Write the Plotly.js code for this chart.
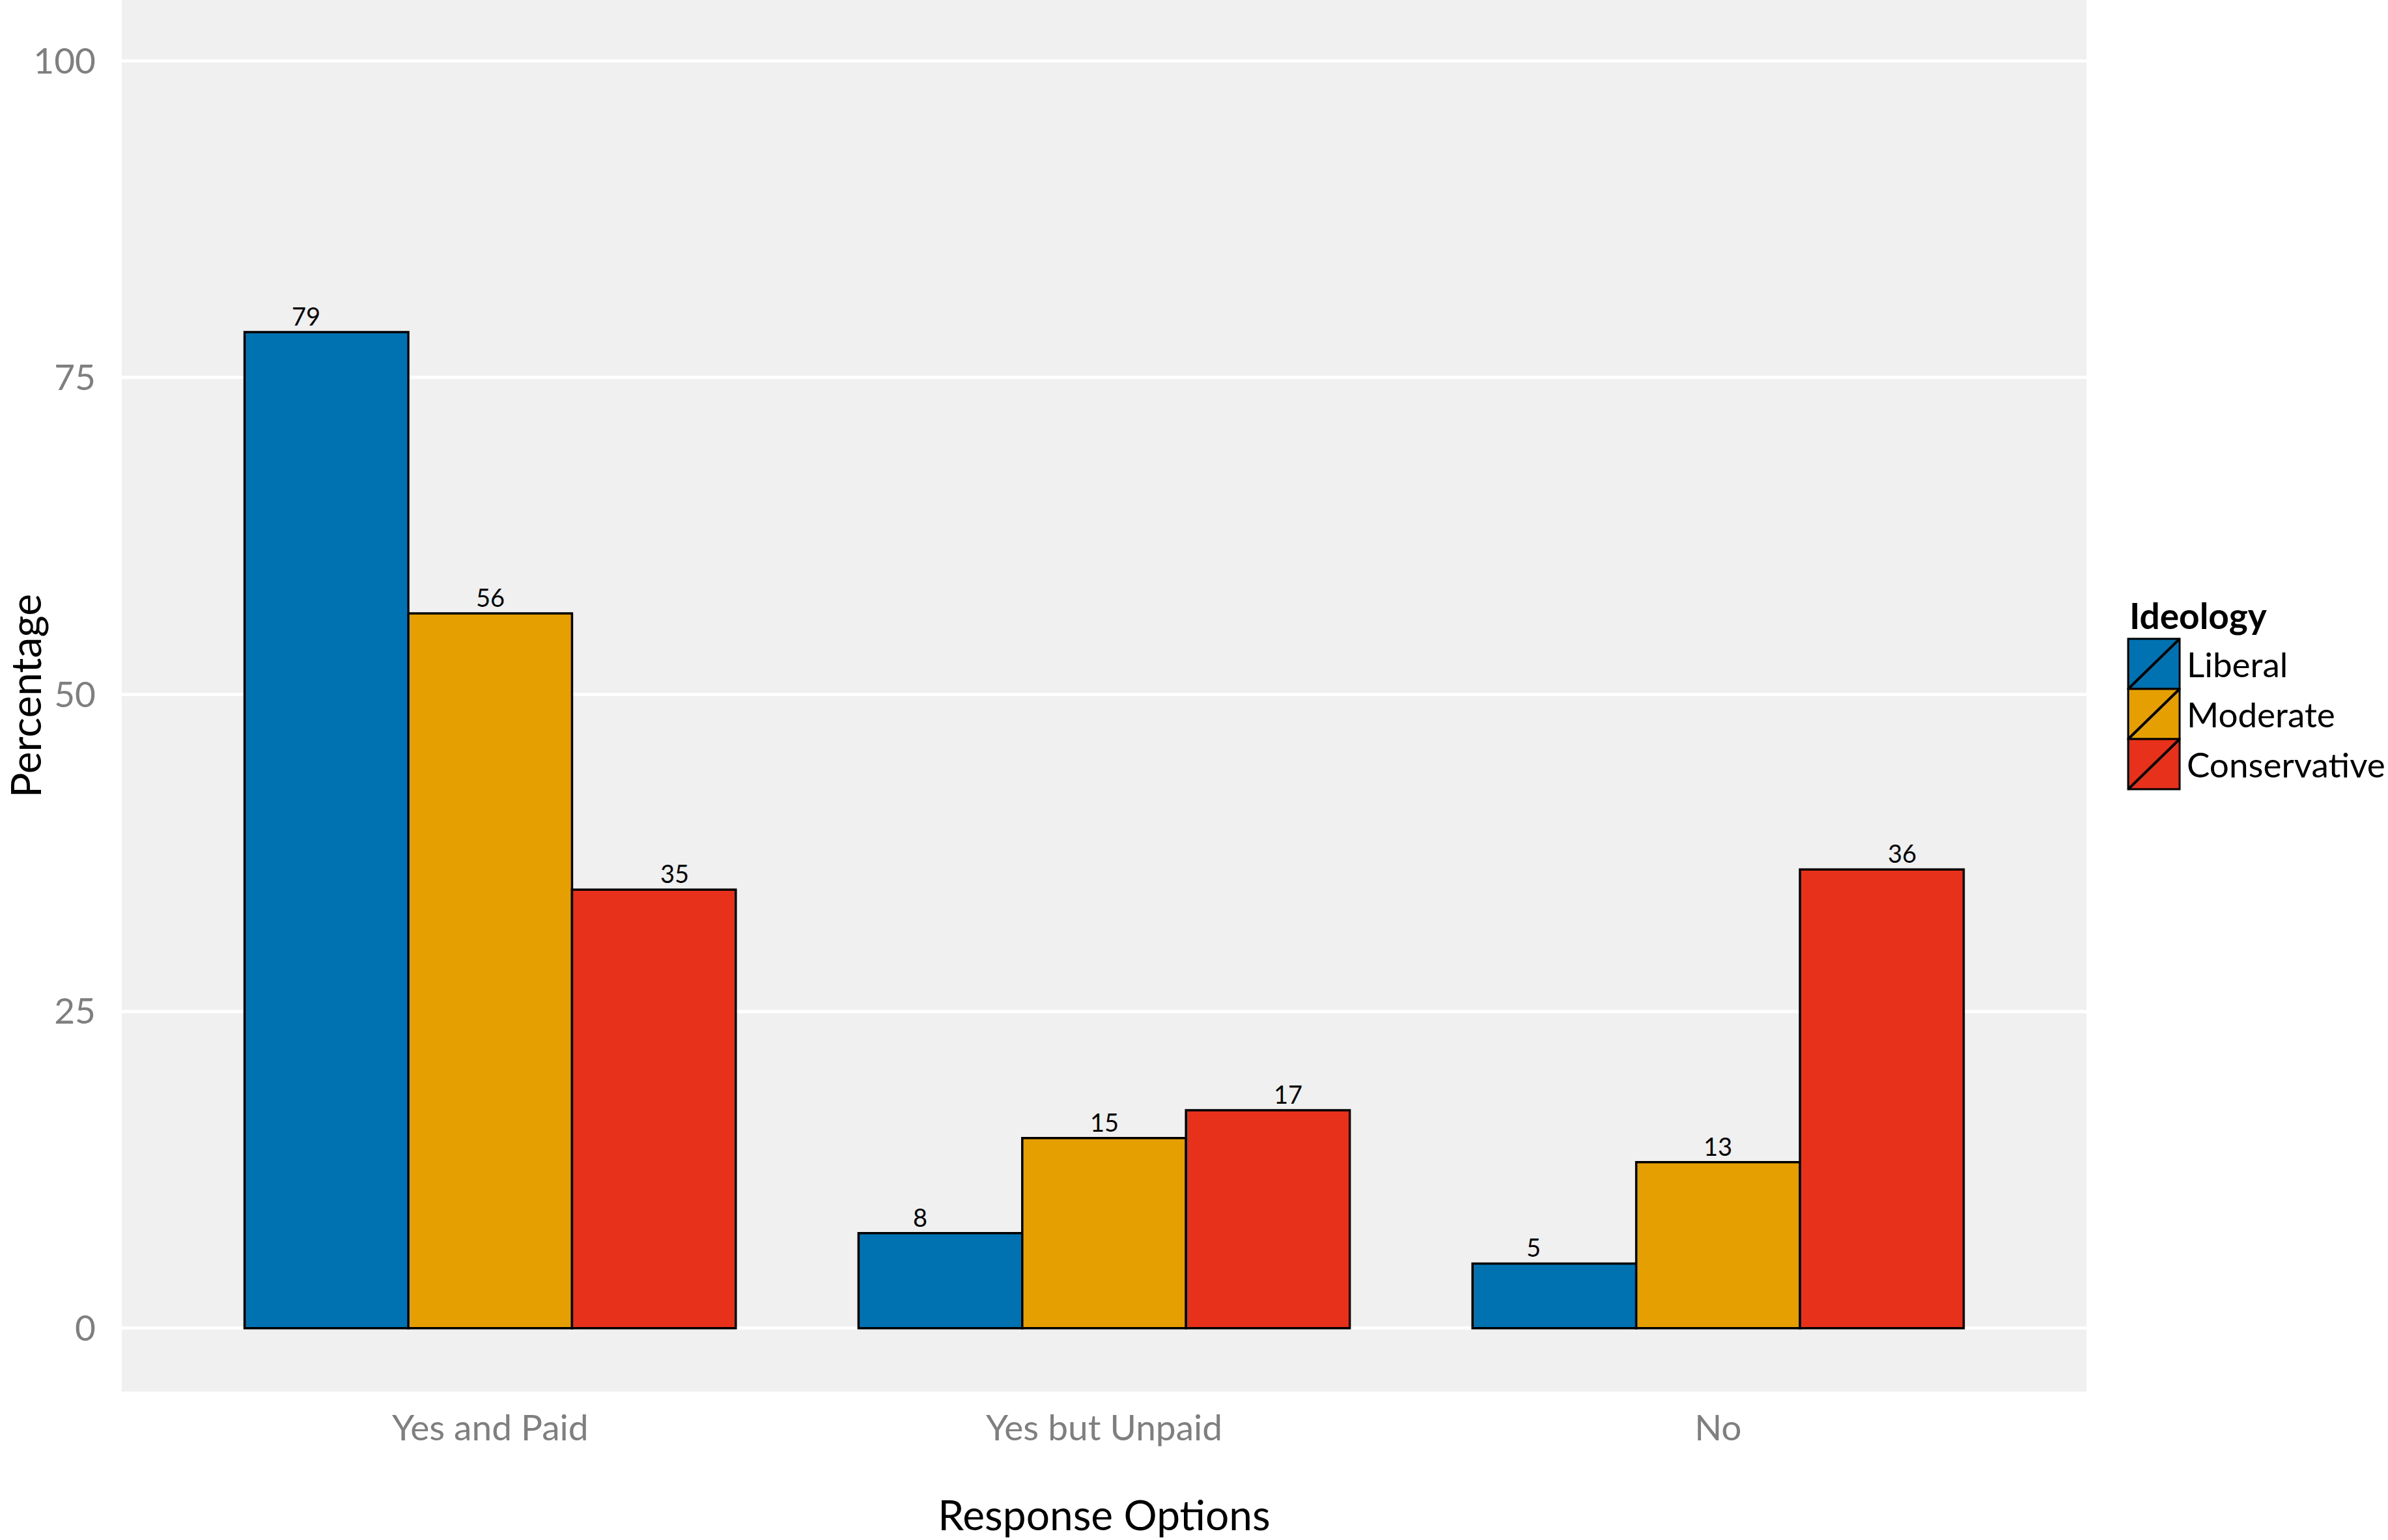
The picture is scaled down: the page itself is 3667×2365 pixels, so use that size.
<!DOCTYPE html>
<html>
<head>
<meta charset="utf-8">
<script src="https://cdn.plot.ly/plotly-3.0.1.min.js"></script>
<style>html,body{margin:0;padding:0;background:#fff;}#chart{width:3667px;height:2365px;}</style>
</head>
<body>
<div id="chart"></div>
<script>
// ---- data ----
const categories = ["Yes and Paid", "Yes but Unpaid", "No"];
const seriesNames = ["Liberal", "Moderate", "Conservative"];
const liberal = [78.6, 7.5, 5.1];
const moderate = [56.4, 15.0, 13.1];
const conservative = [34.6, 17.2, 36.2];
const liberalLabels = ["79", "8", "5"];
const moderateLabels = ["56", "15", "13"];
const conservativeLabels = ["35", "17", "36"];
const yTickValues = [0, 25, 50, 75, 100];
const yTickLabels = ["0", "25", "50", "75", "100"];
const legendTitle = "Ideology";
const xTitle = "Response Options";
const yTitle = "Percentage";

// ---- styles ----
const colors = ["#0072B2", "#E69F00", "#E8311A"];
const FONT = "Lato, 'Open Sans', sans-serif";
const W = 3667, H = 2365;
const M = {l: 187, r: 463, t: 0, b: 228};
const plotW = W - M.l - M.r, plotH = H - M.t - M.b;
const px2x = p => (p - M.l) / plotW;
const px2y = p => (H - M.b - p) / plotH;

const values = [liberal, moderate, conservative];
const labels = [liberalLabels, moderateLabels, conservativeLabels];

const traces = seriesNames.map((name, i) => ({
  type: "bar",
  name: name,
  x: categories,
  y: values[i],
  marker: {color: colors[i], line: {color: "#000", width: 3.5}},
  hoverinfo: "x+y+name",
  showlegend: false
}));

const shapes = [];
const annotations = [];

// value labels: dodged at width 0.9 (as in the reference), bars dodged at 0.8
const textDodge = 0.9 / seriesNames.length;
seriesNames.forEach((name, j) => {
  categories.forEach((c, i) => {
    annotations.push({xref: "x", yref: "y", x: i + (j - (seriesNames.length - 1) / 2) * textDodge,
      y: values[j][i], xanchor: "center", yanchor: "bottom", yshift: 0,
      showarrow: false, text: labels[j][i],
      font: {family: FONT, size: 38, color: "#000"}});
  });
});

// manual legend (large keys with diagonal slash like the reference)
const keyL = 3268, keyR = 3347, keyTop = 981, keyH = 77;
seriesNames.forEach((name, i) => {
  const t = keyTop + i * keyH, b = t + keyH;
  shapes.push({type: "rect", xref: "paper", yref: "paper",
    x0: px2x(keyL), x1: px2x(keyR), y0: px2y(b), y1: px2y(t),
    fillcolor: colors[i], line: {color: "#000", width: 3}});
  shapes.push({type: "line", xref: "paper", yref: "paper",
    x0: px2x(keyL), x1: px2x(keyR), y0: px2y(b), y1: px2y(t),
    line: {color: "#000", width: 4}});
  annotations.push({xref: "paper", yref: "paper", x: px2x(3356), y: px2y((t + b) / 2),
    xanchor: "left", yanchor: "middle", showarrow: false, text: name,
    font: {family: FONT, size: 53, color: "#000"}});
});
annotations.push({xref: "paper", yref: "paper", x: px2x(3268), y: px2y(945),
  xanchor: "left", yanchor: "middle", showarrow: false, text: "<b>" + legendTitle + "</b>",
  font: {family: FONT, size: 55, color: "#000"}});

const layout = {
  width: W, height: H,
  margin: M,
  paper_bgcolor: "#ffffff",
  plot_bgcolor: "#f0f0f0",
  barmode: "group",
  bargap: 0.2,
  bargroupgap: 0,
  showlegend: false,
  font: {family: FONT},
  xaxis: {
    type: "category",
    range: [-0.6, 2.6],
    showgrid: false, zeroline: false, showline: false,
    ticks: "outside", ticklen: 8, tickcolor: "rgba(0,0,0,0)",
    tickfont: {family: FONT, size: 55, color: "#7f7f7f"},
    title: {text: xTitle, font: {family: FONT, size: 64, color: "#000"}, standoff: 82}
  },
  yaxis: {
    range: [-5, 104.8],
    tickvals: yTickValues, ticktext: yTickLabels,
    showgrid: true, gridcolor: "#ffffff", gridwidth: 5,
    zeroline: false, showline: false,
    ticks: "outside", ticklen: 28, tickcolor: "rgba(0,0,0,0)",
    tickfont: {family: FONT, size: 55, color: "#7f7f7f"},
    title: {text: yTitle, font: {family: FONT, size: 64, color: "#000"}, standoff: 1}
  },
  shapes: shapes,
  annotations: annotations
};

Plotly.newPlot("chart", traces, layout, {displayModeBar: false, staticPlot: true});
</script>
</body>
</html>
